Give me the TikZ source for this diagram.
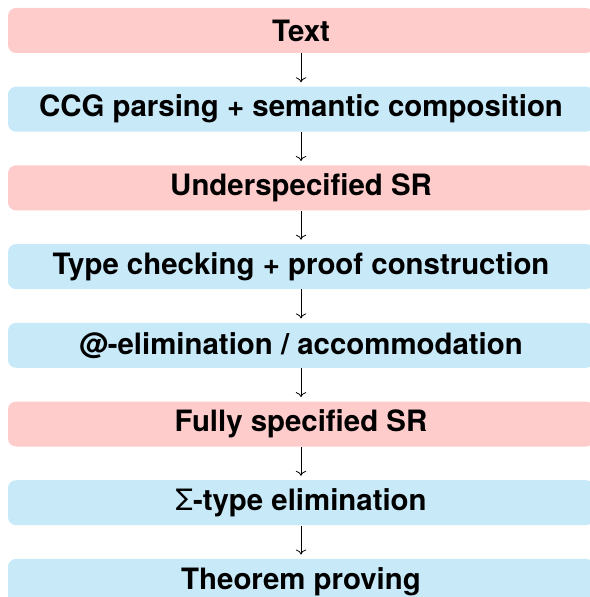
\documentclass[tikz,border=0pt]{standalone}
\usepackage{fontspec}
\setmainfont{TeX Gyre Heros}
\usepackage{tikz}
\usetikzlibrary{
    arrows.meta,
    positioning
}
\definecolor{sr pink}{RGB}{255,204,204}
\definecolor{step blue}{RGB}{199,233,248}
\tikzset{
    % Boxes
    stage/.style={rounded corners=4pt,minimum width=293pt,minimum height=22.5pt,
        inner sep=0pt,font=\fontsize{14.7}{16}\selectfont\bfseries},
    repr box/.style={stage,fill=sr pink},
    proc box/.style={stage,fill=step blue},
    %
    % Arrows
    arrow tip/.tip={To},
    arr/.style={->,>={arrow tip},thin,shorten >=2pt}
}

\begin{document}
\begin{tikzpicture}[node distance=16.45pt]
        \useasboundingbox (0,0) rectangle (294.5pt,-298.5pt);
        \node[repr box] (text) at (150.5pt,-15.25pt) {Text};
        \node[proc box,below=of text] (parse) {CCG parsing + semantic composition};
        \node[repr box,below=of parse] (underspec) {Underspecified SR};
        \node[proc box,below=of underspec] (typecheck) {Type checking + proof construction};
        \node[proc box,below=of typecheck] (atelim) {@-elimination / accommodation};
        \node[repr box,below=of atelim] (fullspec) {Fully specified SR};
        \node[proc box,below=of fullspec] (sigmaelim) {{\mdseries Σ}-type elimination};
        \node[proc box,below=of sigmaelim] (prove) {Theorem proving};
        \foreach \a/\b in {text/parse,parse/underspec,underspec/typecheck,typecheck/atelim,
            atelim/fullspec,fullspec/sigmaelim,sigmaelim/prove}
            \draw[arr] (\a) -- (\b);
    \end{tikzpicture}
\end{document}
